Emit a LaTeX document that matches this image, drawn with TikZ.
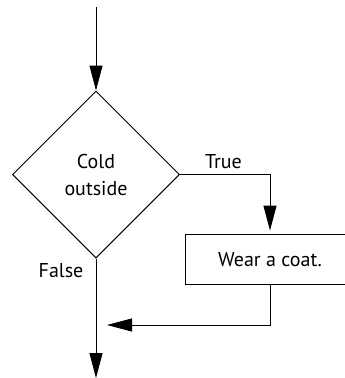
\documentclass[tikz,border=0pt]{standalone}
\usepackage{fontspec}
\setmainfont{PT Sans}
\usetikzlibrary{arrows.meta,shapes.geometric}

\begin{document}
\begin{tikzpicture}[
  x=1pt, y=-1pt,
  font=\fontsize{20}{27}\selectfont,
  line width=1pt,
  flow/.style={-{Triangle[length=25pt,width=13pt]}},
  decide/.style={diamond, draw, aspect=1, inner sep=0pt,
                 minimum width=167pt, minimum height=167pt, align=center},
  action/.style={rectangle, draw, minimum width=170pt, minimum height=50.5pt},
  lbl/.style={anchor=base, inner sep=0pt}
]
\useasboundingbox (0,0) rectangle (345,378);
% ends of the flow
\coordinate (entry) at (96,7);
\coordinate (exit)  at (96,378);
\coordinate (join)  at (107,325);
% decision and action
\node[decide] (cold) at (96,174.5) {Cold\\outside};
\node[action] (coat) at (270,259.3) {Wear a coat.};
% branch labels
\node[lbl] (truelbl)  at (223.5,168) {True};
\node[lbl] (falselbl) at (61,277)    {False};
% connectors
\draw[flow] (entry) -- (cold.north);
\draw[flow, shorten >=3pt] (cold.east) -| (coat.north);
\draw[flow] (coat.south) |- (join);
\draw[flow] (cold.south) -- (exit);
\end{tikzpicture}
\end{document}
